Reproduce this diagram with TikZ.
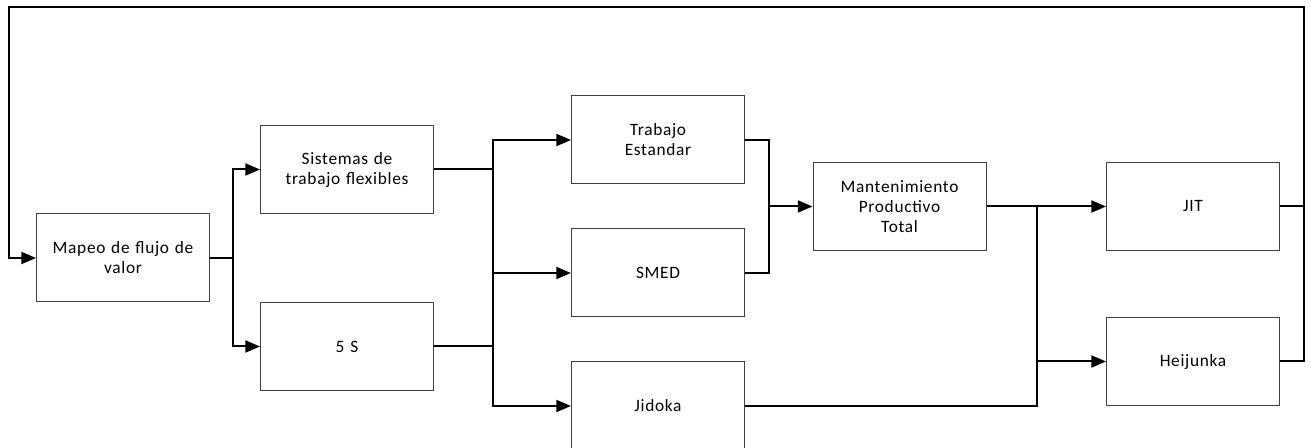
\documentclass[tikz,border=0pt]{standalone}
\usepackage{fontspec}
\setmainfont{Carlito}[LetterSpace=4]
\usetikzlibrary{arrows.meta}
\tikzset{
  x=0.75pt, y=-0.75pt,
  box/.style={draw=black!75, line width=0.75pt, fill=white, minimum width=129.75pt, minimum height=66pt,
    anchor=north west, align=center, inner sep=2pt, text width=120pt,
    font=\fontsize{13}{15}\selectfont},
  conn/.style={draw=black, line width=1.5pt},
  arr/.style={conn, -{Triangle[length=11pt,width=9pt]}},
}
\begin{document}
\begin{tikzpicture}
\useasboundingbox (0,0) rectangle (1311,448);
\node[box] (mapeo) at (36,213.5) {Mapeo de flujo de\\valor};
\node[box] (sist) at (260,125) {Sistemas de\\trabajo flexibles};
\node[box] (cinco) at (260,302) {5 S};
\node[box] (trab) at (571,95.5) {Trabajo\\Estandar};
\node[box] (smed) at (571,228.5) {SMED};
\node[box] (jido) at (571,361.5) {Jidoka};
\node[box] (mant) at (812.5,162) {Mantenimiento\\Productivo\\Total};
\node[box] (jit) at (1106,162) {JIT};
\node[box] (heij) at (1106,317) {Heijunka};

\coordinate (j1) at (233,0);
\coordinate (j2) at (493,0);
\coordinate (j3) at (769,0);
\coordinate (j4) at (1037,0);
\coordinate (fbR) at (1304,7);
\coordinate (fbL) at (9,7);

% feedback
\draw[conn] (jit.east) -- (jit.east -| fbR);
\draw[arr] (heij.east) -| (fbR) -- (fbL) |- (mapeo.west);

% Mapeo -> Sistemas / 5S
\draw[conn] (mapeo.east) -- (mapeo.east -| j1);
\draw[arr] (mapeo.east -| j1) |- (sist.west);
\draw[arr] (mapeo.east -| j1) |- (cinco.west);

% Sistemas, 5S -> Trabajo, SMED, Jidoka
\draw[conn] (sist.east) -- (sist.east -| j2);
\draw[conn] (cinco.east) -- (cinco.east -| j2);
\draw[arr] (jido.west -| j2) |- (trab.west);
\draw[arr] (smed.west -| j2) -- (smed.west);
\draw[arr] (sist.east -| j2) |- (jido.west);

% Trabajo, SMED -> Mantenimiento
\draw[conn] (trab.east) -| (trab.east -| j3) |- (smed.east);
\draw[arr] (mant.west -| j3) -- (mant.west);

% Mantenimiento, Jidoka -> JIT, Heijunka
\draw[arr] (mant.east) -- (jit.west);
\draw[conn] (jido.east) -| (mant.east -| j4);
\draw[arr] (heij.west -| j4) -- (heij.west);
\end{tikzpicture}
\end{document}
